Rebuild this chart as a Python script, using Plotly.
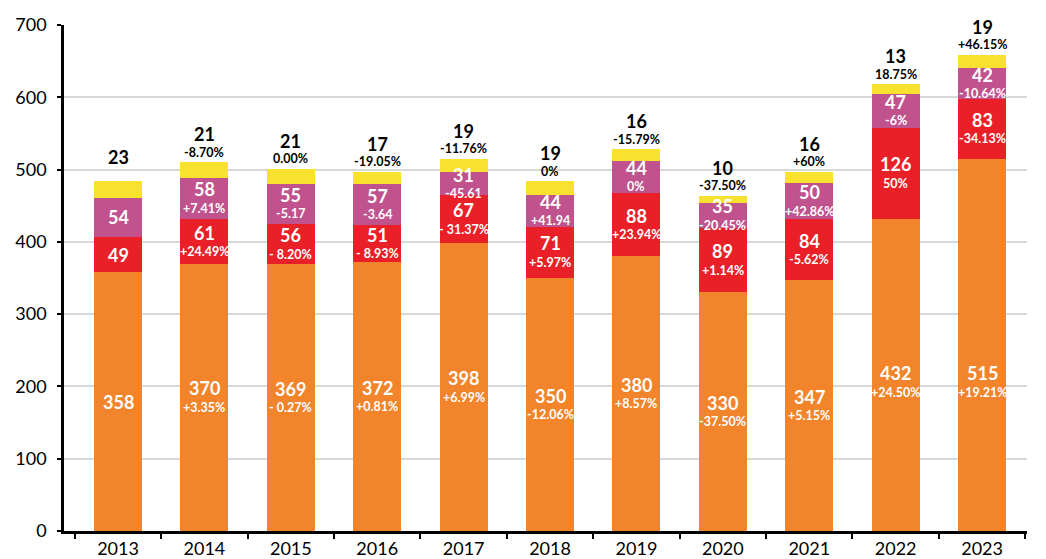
import plotly.graph_objects as go

years = ["2013", "2014", "2015", "2016", "2017", "2018", "2019", "2020", "2021", "2022", "2023"]

orange = [358, 370, 369, 372, 398, 350, 380, 330, 347, 432, 515]
orange_pct = ["", "+3.35%", "- 0.27%", "+0.81%", "+6.99%", "-12.06%", "+8.57%", "-37.50%", "+5.15%", "+24.50%", "+19.21%"]

red = [49, 61, 56, 51, 67, 71, 88, 89, 84, 126, 83]
red_pct = ["", "+24.49%", "- 8.20%", "- 8.93%", "- 31.37%", "+5.97%", "+23.94%", "+1.14%", "-5.62%", "50%", "-34.13%"]

purple = [54, 58, 55, 57, 31, 44, 44, 35, 50, 47, 42]
purple_pct = ["", "+7.41%", "-5.17", "-3.64", "-45.61", "+41.94", "0%", "-20.45%", "+42.86%", "-6%", "-10.64%"]

yellow = [23, 21, 21, 17, 19, 19, 16, 10, 16, 13, 19]
yellow_pct = ["", "-8.70%", "0.00%", "-19.05%", "-11.76%", "0%", "-15.79%", "-37.50%", "+60%", "18.75%", "+46.15%"]

y_ticks = [0, 100, 200, 300, 400, 500, 600, 700]

colors = {"orange": "#F2842B", "red": "#E92028", "purple": "#C0538D", "yellow": "#F9E22F"}
FONT = "Lato"
ORANGE_LABEL_CAP = 206  # orange labels sit no higher than this value level

fig = go.Figure()
for name, vals in [("orange", orange), ("red", red), ("purple", purple), ("yellow", yellow)]:
    fig.add_trace(go.Bar(x=years, y=vals, name=name, marker=dict(color=colors[name], line=dict(width=0)),
                         width=0.555, hoverinfo="skip"))


def add_label(i, y, text, size, color, yshift):
    fig.add_annotation(x=i, y=y, xref="x", yref="y", text="<b>" + text + "</b>", showarrow=False,
                       font=dict(family=FONT, size=size, color=color),
                       xanchor="center", yanchor="middle", yshift=yshift)


for i in range(len(years)):
    base = 0
    for k, (vals, pcts) in enumerate([(orange, orange_pct), (red, red_pct), (purple, purple_pct)]):
        mid = base + vals[i] / 2
        if k == 0:
            mid = min(mid, ORANGE_LABEL_CAP)
        if pcts[i]:
            add_label(i, mid, str(vals[i]), 18, "white", 9)
            add_label(i, mid, pcts[i], 12.5, "white", -10)
        else:
            add_label(i, mid, str(vals[i]), 18, "white", 0)
        base += vals[i]
    total = base + yellow[i]
    if yellow_pct[i]:
        add_label(i, total, str(yellow[i]), 18, "black", 28)
        add_label(i, total, yellow_pct[i], 12.5, "black", 10)
    else:
        add_label(i, total, str(yellow[i]), 18, "black", 24)

fig.update_layout(
    template="none",
    barmode="stack",
    width=1038, height=551,
    margin=dict(l=56, r=19, t=17, b=28, autoexpand=False),
    paper_bgcolor="white", plot_bgcolor="white",
    showlegend=False,
    font=dict(family=FONT, color="black"),
    xaxis=dict(type="category", range=[-0.625, 10.52], showline=True, linecolor="black", linewidth=2.5,
               ticks="outside", tickson="boundaries", ticklen=5, tickwidth=1.5, tickcolor="black",
               tickfont=dict(family=FONT, size=18, color="black"), showgrid=False, automargin=False),
    yaxis=dict(range=[0, 700], tickvals=y_ticks, showline=True, linecolor="black", linewidth=2.5,
               ticks="outside", ticklen=4, tickwidth=1.5, tickcolor="black", ticklabelstandoff=7,
               tickfont=dict(family=FONT, size=18, color="black"), automargin=False,
               showgrid=True, gridcolor="#D9D9D9", gridwidth=1.5, zeroline=False),
)

fig.write_html("out.html")
